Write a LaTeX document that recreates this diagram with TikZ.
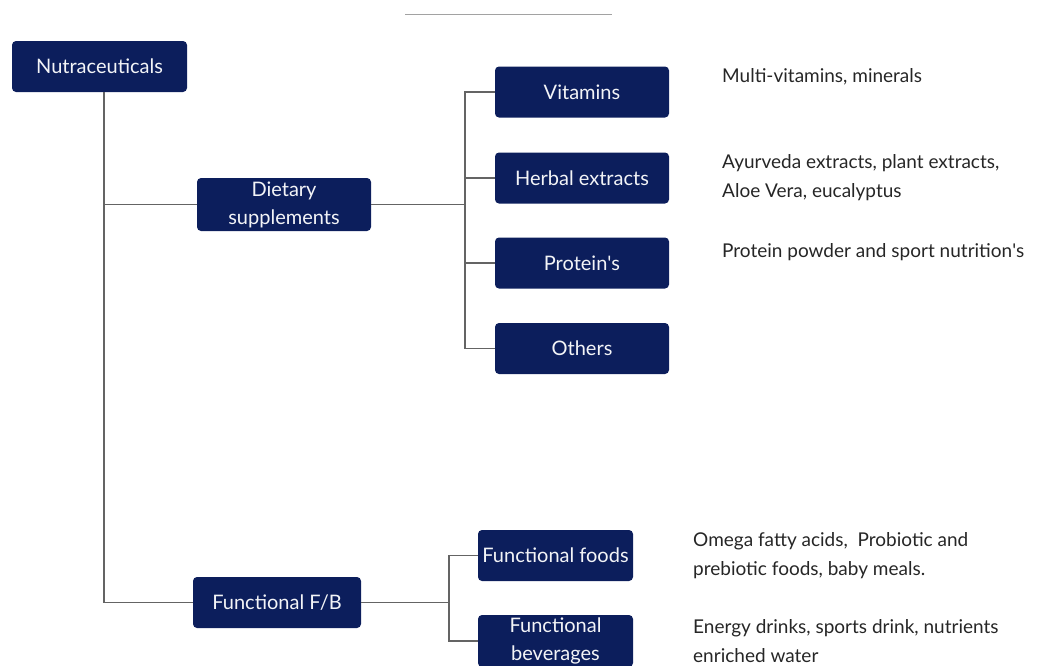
\documentclass[tikz,border=0pt]{standalone}
\usepackage{fontspec}
\setmainfont{Lato}
\definecolor{navy}{RGB}{12,30,92}
\definecolor{linegray}{RGB}{100,100,100}
\begin{document}
\begin{tikzpicture}[x=1pt,y=-1pt,
  box/.style={fill=navy, text=white!95!navy, rounded corners=4pt, minimum height=51pt,
    inner sep=0pt, align=center, font=\fontsize{20}{28}\selectfont},
  desc/.style={anchor=west, align=left, inner sep=0pt, text=black!85,
    font=\fontsize{19}{29}\selectfont},
  conn/.style={draw=linegray, line width=1.8pt}]
\useasboundingbox (0,0) rectangle (1049,665);
\clip (0,0) rectangle (1049,665);
\draw[linegray!60, line width=1pt] (405,14) -- (612,14);
\node[box, minimum width=175pt] (nut) at (99.5,66.5) {Nutraceuticals};
\node[box, minimum width=174pt, minimum height=53pt] (diet) at (284,204.5) {Dietary\\supplements};
\node[box, minimum width=174pt] (vit) at (582,92) {Vitamins};
\node[box, minimum width=174pt] (herb) at (582,178) {Herbal extracts};
\node[box, minimum width=174pt] (prot) at (582,263) {Protein\textquotesingle s};
\node[box, minimum width=174pt] (oth) at (582,348.5) {Others};
\node[box, minimum width=168pt] (ffb) at (277,602.5) {Functional F/B};
\node[box, minimum width=155pt] (ffood) at (555.5,555.5) {Functional foods};
\node[box, minimum width=155pt, minimum height=52pt] (fbev) at (555.5,641) {Functional\\beverages};
\coordinate (t) at (104,0);
\coordinate (b1) at (465,204.5);
\coordinate (b2) at (449,602.5);
\draw[conn] (nut.south -| t) |- (ffb.west);
\draw[conn] (diet.west) -- (diet.west -| t);
\draw[conn] (diet.east) -- (b1);
\draw[conn] (vit.west) -| (b1) |- (oth.west);
\draw[conn] (herb.west) -- (herb.west -| b1);
\draw[conn] (prot.west) -- (prot.west -| b1);
\draw[conn] (ffb.east) -- (b2);
\draw[conn] (ffood.west) -| (b2) |- (fbev.west);
\node[desc] (d1) at (722,77) {Multi-vitamins, minerals};
\node[desc] (d2) at (722,178) {Ayurveda extracts, plant extracts,\\Aloe Vera, eucalyptus};
\node[desc] (d3) at (722,252) {Protein powder and sport nutrition\textquotesingle s};
\node[desc] (d4) at (693,556) {Omega fatty acids,\ \ Probiotic and\\prebiotic foods, baby meals.};
\node[desc] (d5) at (693,641) {Energy drinks, sports drink, nutrients\\enriched water};
\end{tikzpicture}
\end{document}
